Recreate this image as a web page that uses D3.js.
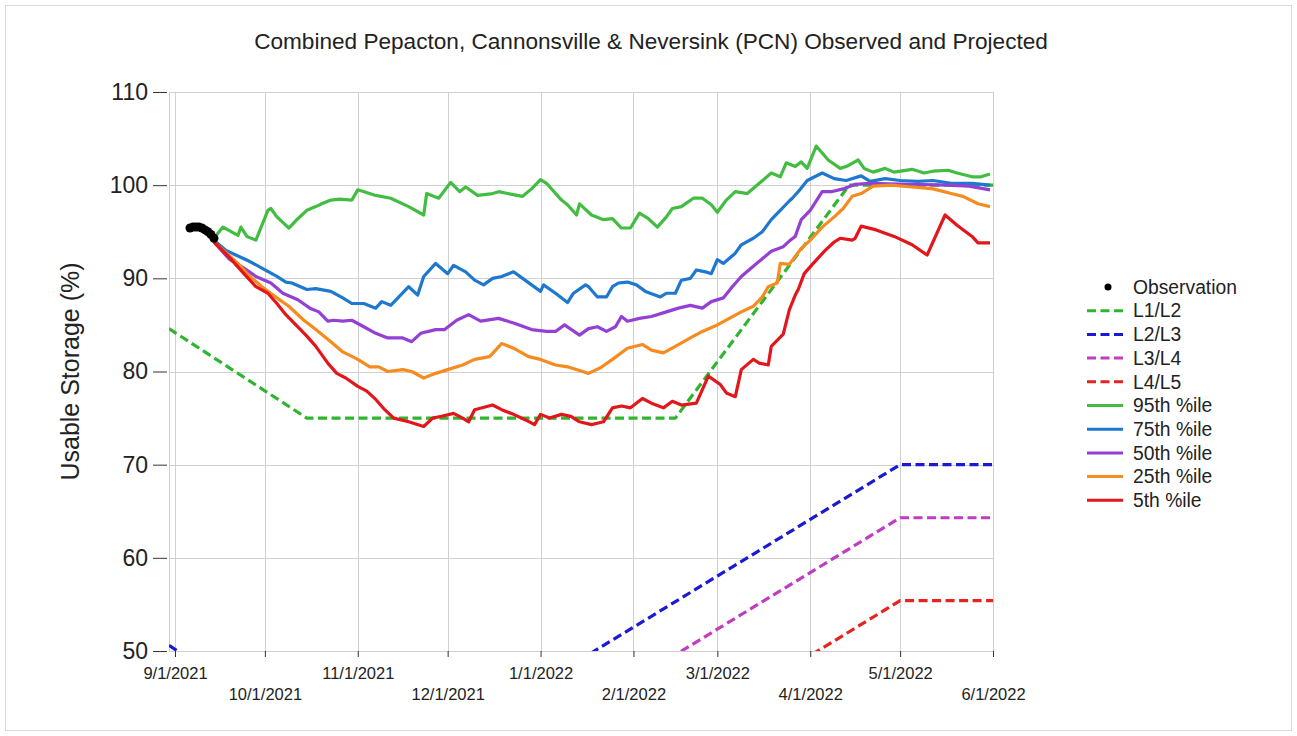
<!DOCTYPE html>
<html>
<head>
<meta charset="utf-8">
<script src="https://cdn.jsdelivr.net/npm/d3@7"></script>
<style>
  body { margin: 0; background: #fff; }
  svg text { font-family: "Liberation Sans", Arial, sans-serif; fill: #222; }
</style>
</head>
<body>
<div id="chart"></div>
<script>
(function() {

    // ---- data ----
    // every series is [day, value], day counted from 9/1/2021
    const chartTitle = "Combined Pepacton, Cannonsville & Neversink (PCN) Observed and Projected";
    const yLabel = "Usable Storage (%)";
    const firstDay = "9/1/2021";
    const xTicks = ["9/1/2021", "10/1/2021", "11/1/2021", "12/1/2021", "1/1/2022",
        "2/1/2022", "3/1/2022", "4/1/2022", "5/1/2022", "6/1/2022"];
    const yTicks = [50, 60, 70, 80, 90, 100, 110];

    const observation = [[5,95.4],[6,95.5],[7,95.5],[8,95.5],[9,95.4],[10,95.2],[11,95.0],[12,94.7],[13,94.3]];

    const l1l2 = [[-2,84.6],[44,75],[167,75],[225,100],[273,100]];
    const l2l3 = [[-2,50.6],[44,41],[91,40.4],[242,70],[273,70]];
    const l3l4 = [[-2,45],[44,35],[91,34.7],[242,64.3],[273,64.3]];
    const l4l5 = [[-2,35],[44,26],[91,25.8],[242,55.4],[273,55.4]];

    const p95 = [[13,94.3],[16,95.5],[21,94.6],[22,95.5],[24,94.5],[27,94.1],[31,97.3],[32,97.5],[34,96.6],[38,95.4],
        [41,96.4],[44,97.3],[47,97.7],[49,98.0],[52,98.4],[55,98.5],[59,98.4],[61,99.5],[67,98.9],[72,98.6],
        [78,97.7],[83,96.8],[84,99.1],[88,98.6],[92,100.3],[95,99.3],[97,99.8],[101,98.9],[106,99.1],[108,99.3],
        [111,99.1],[116,98.8],[119,99.6],[122,100.6],[124,100.2],[129,98.4],[131,97.9],[134,96.8],[135,98.0],[139,96.8],
        [143,96.3],[146,96.4],[149,95.4],[152,95.4],[155,97.0],[158,96.4],[161,95.5],[164,96.6],[166,97.5],[169,97.7],
        [173,98.6],[176,98.6],[179,97.9],[181,97.1],[184,98.4],[187,99.3],[191,99.1],[195,100.2],[199,101.3],[202,100.9],
        [204,102.4],[207,102.0],[209,102.5],[211,101.8],[214,104.2],[218,102.7],[222,101.8],[224,102.0],[228,102.7],[230,101.8],
        [233,101.4],[237,101.8],[240,101.4],[246,101.7],[250,101.3],[253,101.5],[258,101.6],[261,101.3],[266,100.9],[269,100.9],
        [272,101.2]];

    const p75 = [[13,94.1],[17,93.0],[21,92.4],[25,91.8],[29,91.1],[34,90.2],[37,89.6],[39,89.5],[44,88.8],[47,88.9],
        [52,88.6],[56,87.9],[59,87.3],[63,87.3],[67,86.8],[69,87.5],[72,87.1],[78,89.1],[81,88.2],[83,90.2],
        [87,91.6],[91,90.5],[93,91.4],[97,90.7],[100,89.8],[103,89.3],[106,90.0],[109,90.2],[113,90.7],[116,90.0],
        [119,89.3],[122,88.6],[123,89.3],[127,88.4],[131,87.4],[133,88.4],[137,89.3],[138,89.1],[141,88.0],[144,88.0],
        [146,89.1],[148,89.5],[151,89.6],[154,89.3],[157,88.6],[162,88.0],[164,88.4],[167,88.4],[169,89.8],[172,90.0],
        [174,90.9],[177,90.7],[179,90.5],[181,92.0],[183,91.6],[187,92.7],[189,93.6],[193,94.3],[196,95.0],[199,96.3],
        [202,97.3],[205,98.3],[206,98.6],[208,99.3],[211,100.5],[216,101.3],[220,100.7],[224,100.5],[229,101.0],[232,100.4],
        [237,100.7],[242,100.5],[248,100.4],[253,100.5],[259,100.2],[266,100.2],[272,100.0]];

    const p50 = [[13,93.9],[18,92.1],[23,91.1],[27,90.2],[32,89.5],[36,88.4],[41,87.7],[45,86.8],[48,86.4],[51,85.4],
        [53,85.5],[56,85.4],[59,85.5],[63,84.8],[67,84.1],[71,83.6],[76,83.6],[79,83.2],[82,84.1],[87,84.5],
        [90,84.5],[94,85.5],[98,86.1],[102,85.4],[108,85.7],[113,85.2],[119,84.5],[124,84.3],[127,84.3],[130,85.0],
        [135,83.9],[138,84.6],[141,84.8],[144,84.3],[147,84.8],[149,85.9],[151,85.4],[155,85.7],[159,85.9],[164,86.4],
        [168,86.8],[172,87.1],[176,86.8],[179,87.5],[183,87.9],[186,89.1],[189,90.2],[193,91.3],[196,92.1],[199,92.9],
        [203,93.4],[205,94.0],[207,94.5],[209,96.3],[212,97.3],[216,99.3],[219,99.3],[223,99.6],[227,100.1],[232,100.2],
        [245,100.1],[258,100.0],[265,99.9],[272,99.5]];

    const p25 = [[13,93.9],[21,91.6],[25,90.2],[29,89.1],[34,87.9],[38,87.0],[43,85.5],[47,84.5],[52,83.2],[56,82.1],
        [61,81.3],[65,80.5],[68,80.5],[71,80.0],[76,80.2],[79,80.0],[83,79.3],[87,79.8],[91,80.2],[96,80.7],
        [100,81.3],[105,81.6],[109,83.0],[113,82.5],[118,81.6],[122,81.3],[127,80.7],[131,80.5],[135,80.1],[138,79.8],
        [142,80.4],[146,81.3],[151,82.5],[156,82.9],[159,82.3],[163,82.0],[167,82.7],[172,83.6],[176,84.3],[181,85.0],
        [185,85.7],[189,86.4],[193,87.0],[196,88.0],[198,89.1],[201,89.5],[202,91.6],[205,91.5],[209,93.2],[212,94.1],
        [216,95.5],[220,96.6],[223,97.5],[226,98.8],[229,99.1],[233,99.9],[239,100.0],[246,99.8],[253,99.6],[259,99.1],
        [263,98.8],[268,98.0],[272,97.7]];

    const p5 = [[13,93.9],[18,92.3],[23,90.5],[27,89.1],[31,88.4],[34,87.3],[37,86.1],[41,84.8],[44,83.8],[47,82.7],
        [51,80.9],[54,79.8],[57,79.3],[61,78.4],[64,77.9],[67,77.0],[70,75.9],[73,75.0],[78,74.6],[83,74.1],
        [86,75.0],[89,75.2],[93,75.5],[96,75.0],[98,74.6],[100,75.9],[106,76.4],[109,75.9],[113,75.4],[117,74.8],
        [120,74.3],[122,75.4],[125,75.0],[129,75.4],[132,75.2],[135,74.6],[139,74.3],[143,74.6],[146,76.1],[149,76.3],
        [152,76.1],[156,77.1],[159,76.6],[163,76.1],[166,76.8],[169,76.4],[174,76.6],[178,79.5],[182,78.6],[184,77.7],
        [187,77.3],[189,80.2],[193,81.3],[195,80.9],[198,80.7],[199,82.7],[203,84.0],[205,86.6],[207,88.2],[208,88.8],
        [210,90.5],[213,91.6],[217,93.0],[220,93.9],[222,94.3],[226,94.1],[227,94.3],[229,95.6],[234,95.2],[240,94.5],
        [246,93.6],[251,92.5],[257,96.8],[261,95.7],[266,94.5],[268,93.8],[272,93.8]];

    const legendNames = ["Observation", "L1/L2", "L2/L3", "L3/L4", "L4/L5",
        "95th %ile", "75th %ile", "50th %ile", "25th %ile", "5th %ile"];

    // ---- styling ----
    const colors = {
        "Observation": "#000000",
        "L1/L2": "#2fb52f",
        "L2/L3": "#1a1ad2",
        "L3/L4": "#c03cc3",
        "L4/L5": "#e5231f",
        "95th %ile": "#42bd42",
        "75th %ile": "#1f78cf",
        "50th %ile": "#9440d4",
        "25th %ile": "#f68b1f",
        "5th %ile": "#e2161b"
    };
    const dash = "9,4.5";

    window.addEventListener("load", init);

    function init() {
        const parse = d3.timeParse("%m/%d/%Y");
        const day0 = parse(firstDay);
        const toDate = d => d3.timeDay.offset(day0, d);

        const lines = [
            {name: "L1/L2", data: l1l2, dashed: true},
            {name: "L2/L3", data: l2l3, dashed: true},
            {name: "L3/L4", data: l3l4, dashed: true},
            {name: "L4/L5", data: l4l5, dashed: true},
            {name: "95th %ile", data: p95},
            {name: "75th %ile", data: p75},
            {name: "50th %ile", data: p50},
            {name: "25th %ile", data: p25},
            {name: "5th %ile", data: p5}
        ];

        const width = 1297, height = 736;
        const left = 169, right = 993, top = 92, bottom = 651;

        const x = d3.scaleTime()
            .domain([toDate(-2), parse("6/1/2022")])
            .range([left, right]);
        const y = d3.scaleLinear()
            .domain([50, 110])
            .range([bottom, top]);

        const tickDates = xTicks.map(parse);

        const svg = d3.create("svg")
            .attr("width", width)
            .attr("height", height)
            .attr("viewBox", [0, 0, width, height]);

        // frame round the whole picture
        svg.append("rect")
            .attr("x", 5.5).attr("y", 5.5)
            .attr("width", width - 11).attr("height", height - 11)
            .attr("fill", "none")
            .attr("stroke", "#d9d9d9");

        svg.append("defs").append("clipPath")
            .attr("id", "plot-clip")
          .append("rect")
            .attr("x", left).attr("y", top)
            .attr("width", right - left).attr("height", bottom - top);

        // grid
        const grid = svg.append("g")
            .attr("stroke", "#d0d0d0")
            .attr("stroke-width", 1);
        grid.selectAll(".h")
          .data(yTicks)
          .join("line")
            .attr("x1", left).attr("x2", right)
            .attr("y1", d => Math.round(y(d)) + 0.5)
            .attr("y2", d => Math.round(y(d)) + 0.5);
        grid.selectAll(".v")
          .data(tickDates)
          .join("line")
            .attr("y1", top).attr("y2", bottom)
            .attr("x1", d => Math.round(x(d)) + 0.5)
            .attr("x2", d => Math.round(x(d)) + 0.5);
        grid.append("line")
            .attr("x1", left + 0.5).attr("x2", left + 0.5)
            .attr("y1", top).attr("y2", bottom);

        // axes
        svg.append("g")
            .attr("transform", `translate(${left - 2},0)`)
            .call(d3.axisLeft(y).tickValues(yTicks).tickSize(14).tickPadding(5))
            .call(g => g.select(".domain").remove())
            .call(g => g.selectAll(".tick line").attr("stroke", "#333"))
            .call(g => g.selectAll(".tick text")
                .attr("font-size", 23)
                .attr("fill", "#333"));

        svg.append("g")
            .attr("transform", `translate(0,${bottom})`)
            .call(d3.axisBottom(x)
                .tickValues(tickDates)
                .tickSize(6)
                .tickFormat(d3.timeFormat("%-m/%-d/%Y")))
            .call(g => g.select(".domain").remove())
            .call(g => g.selectAll(".tick line").attr("stroke", "#333"))
            .call(g => g.selectAll(".tick text")
                .attr("font-size", 16.5)
                .attr("fill", "#333")
                .attr("y", (d, i) => i % 2 ? 37 : 16));

        // lines
        const line = d3.line()
            .x(d => x(toDate(d[0])))
            .y(d => y(d[1]));

        svg.append("g")
            .attr("clip-path", "url(#plot-clip)")
            .attr("fill", "none")
            .attr("stroke-width", 3.2)
            .attr("stroke-linejoin", "round")
          .selectAll("path")
          .data(lines)
          .join("path")
            .attr("stroke", d => colors[d.name])
            .attr("stroke-dasharray", d => d.dashed ? dash : null)
            .attr("d", d => line(d.data));

        svg.append("g")
            .attr("fill", colors["Observation"])
          .selectAll("circle")
          .data(observation)
          .join("circle")
            .attr("cx", d => x(toDate(d[0])))
            .attr("cy", d => y(d[1]))
            .attr("r", 4.5);

        // title and y label
        svg.append("text")
            .attr("x", 651)
            .attr("y", 49)
            .attr("text-anchor", "middle")
            .attr("font-size", 22.6)
            .text(chartTitle);

        svg.append("text")
            .attr("transform", `translate(79,${(top + bottom) / 2}) rotate(-90)`)
            .attr("text-anchor", "middle")
            .attr("font-size", 25)
            .attr("fill", "#333")
            .text(yLabel);

        // legend
        const legend = svg.append("g")
          .selectAll("g")
          .data(legendNames)
          .join("g")
            .attr("transform", (d, i) => `translate(1087,${287 + i * 23.7})`);
        legend.filter(d => d === "Observation")
          .append("circle")
            .attr("cx", 21)
            .attr("r", 3.5)
            .attr("fill", d => colors[d]);
        legend.filter(d => d !== "Observation")
          .append("line")
            .attr("x1", 0).attr("x2", 36)
            .attr("stroke", d => colors[d])
            .attr("stroke-width", 3)
            .attr("stroke-dasharray", d => /^L/.test(d) ? dash : null);
        legend.append("text")
            .attr("x", 46)
            .attr("dy", "0.35em")
            .attr("font-size", 19.3)
            .text(d => d);

        document.getElementById("chart").appendChild(svg.node());
    }
})();
</script>
</body>
</html>
